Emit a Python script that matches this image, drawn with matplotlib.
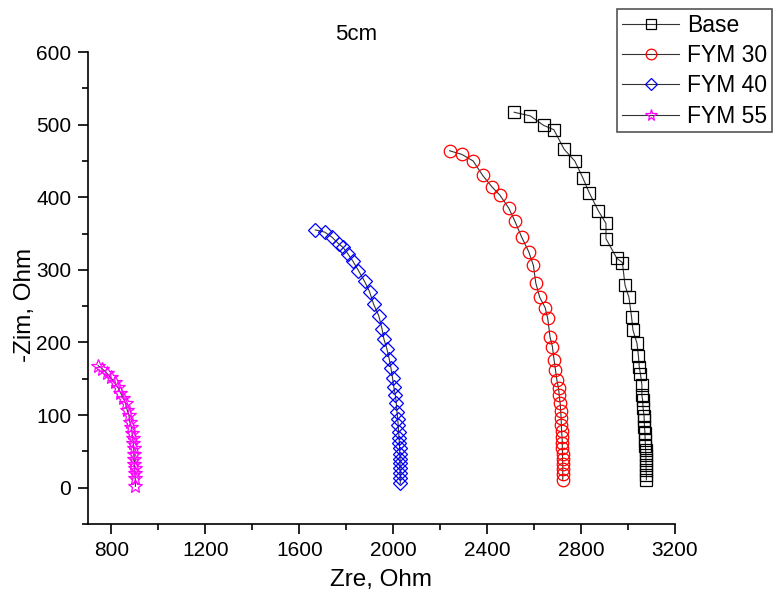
import matplotlib
matplotlib.use("Agg")
import matplotlib.pyplot as plt
from matplotlib.ticker import MultipleLocator

plt.rcParams['font.family'] = ['Liberation Sans', 'DejaVu Sans']

# Base
base_zre = [2515, 2584, 2640, 2684, 2728, 2773, 2807, 2835, 2874, 2906, 2906,
            2952, 2976, 2987, 3004, 3015, 3021, 3038, 3044, 3048, 3053, 3059,
            3059, 3062, 3064, 3068, 3069, 3070, 3072, 3073, 3074, 3075, 3076,
            3076, 3077, 3077, 3078, 3078]
base_zim = [517, 512, 499, 493, 466, 450, 427, 406, 381, 364, 343,
            316, 310, 279, 262, 235, 217, 199, 182, 166, 156, 142,
            127, 121, 110, 99, 93, 84, 75, 65, 58, 52, 45,
            38, 31, 24, 17, 11]

# FYM 30
fym30_zre = [2240, 2292, 2340, 2381, 2421, 2454, 2492, 2518, 2547, 2577, 2597,
             2607, 2624, 2647, 2658, 2668, 2678, 2685, 2691, 2697, 2704, 2707,
             2711, 2713, 2715, 2716, 2717, 2719, 2720, 2720, 2721, 2721, 2722,
             2722, 2722, 2722]
fym30_zim = [464, 459, 450, 430, 414, 403, 385, 367, 345, 325, 306,
             282, 262, 248, 233, 207, 194, 176, 162, 148, 137, 127,
             116, 106, 96, 87, 78, 70, 61, 54, 47, 40, 33,
             26, 19, 10]

# FYM 40
fym40_zre = [1668, 1708, 1739, 1767, 1786, 1807, 1828, 1852, 1878, 1899, 1916,
             1938, 1952, 1960, 1973, 1983, 1990, 1997, 2003, 2009, 2013, 2016,
             2019, 2021, 2023, 2025, 2026, 2027, 2028, 2029, 2029, 2029, 2030,
             2030, 2030]
fym40_zim = [355, 352, 345, 336, 331, 322, 312, 299, 284, 270, 253,
             237, 219, 205, 191, 177, 165, 151, 138, 127, 116, 104,
             95, 86, 77, 68, 62, 55, 47, 40, 34, 27, 20,
             13, 6]

# FYM 55
fym55_zre = [743, 760, 779, 796, 813, 827, 838, 850, 860, 867, 874,
             878, 884, 888, 891, 893, 895, 896, 897, 898, 899, 900, 901, 902]
fym55_zim = [168, 164, 158, 152, 145, 138, 131, 124, 116, 107, 100,
             91, 84, 75, 68, 61, 54, 47, 40, 33, 27, 20, 13, 2]

series = [
    (base_zre, base_zim, 'Base', 's', 'black', 8),
    (fym30_zre, fym30_zim, 'FYM 30', 'o', 'red', 9),
    (fym40_zre, fym40_zim, 'FYM 40', 'D', 'blue', 7),
    (fym55_zre, fym55_zim, 'FYM 55', '*', '#ff00ff', 10),
]

fig = plt.figure(figsize=(7.73, 6.01), dpi=100)
ax = fig.add_axes([88/773, 1 - 524/601, (675 - 88)/773, (524 - 52)/601])

for zre, zim, name, mk, col, ms in series:
    ax.plot(zre, zim, color='#333333', lw=0.8, marker=mk, ms=ms,
            mfc='none', mec=col, mew=0.9, label=name)

ax.set_xlim(700, 3200)
ax.set_ylim(-50, 600)
ax.xaxis.set_major_locator(MultipleLocator(400))
ax.xaxis.set_minor_locator(MultipleLocator(200))
ax.yaxis.set_major_locator(MultipleLocator(100))
ax.yaxis.set_minor_locator(MultipleLocator(50))

for s in ['top', 'right']:
    ax.spines[s].set_visible(False)
for s in ['left', 'bottom']:
    ax.spines[s].set_linewidth(1.2)
ax.tick_params(which='major', direction='out', length=7, width=1.2,
               labelsize=15, pad=5)
ax.tick_params(which='minor', direction='out', length=4, width=1.2)

fig.text(381/773, 1 - 580/601, 'Zre, Ohm', ha='center', va='center', fontsize=17.5)
fig.text(25/773, 1 - 305/601, '-Zim, Ohm', ha='center', va='center',
         rotation=90, fontsize=17.5)
fig.text(356/773, 1 - 35/601, '5cm', ha='center', va='center', fontsize=16)

leg = ax.legend(loc='upper right', bbox_to_anchor=(772/773, 1 - 9/601),
                bbox_transform=fig.transFigure, fontsize=16.5, frameon=True,
                fancybox=False, edgecolor='#555555', framealpha=1,
                borderpad=0.2, handlelength=2.5, handletextpad=0.35,
                labelspacing=0.32, borderaxespad=0, markerscale=0.85)
leg.get_frame().set_linewidth(1.2)

fig.savefig('out.png', dpi=100)
